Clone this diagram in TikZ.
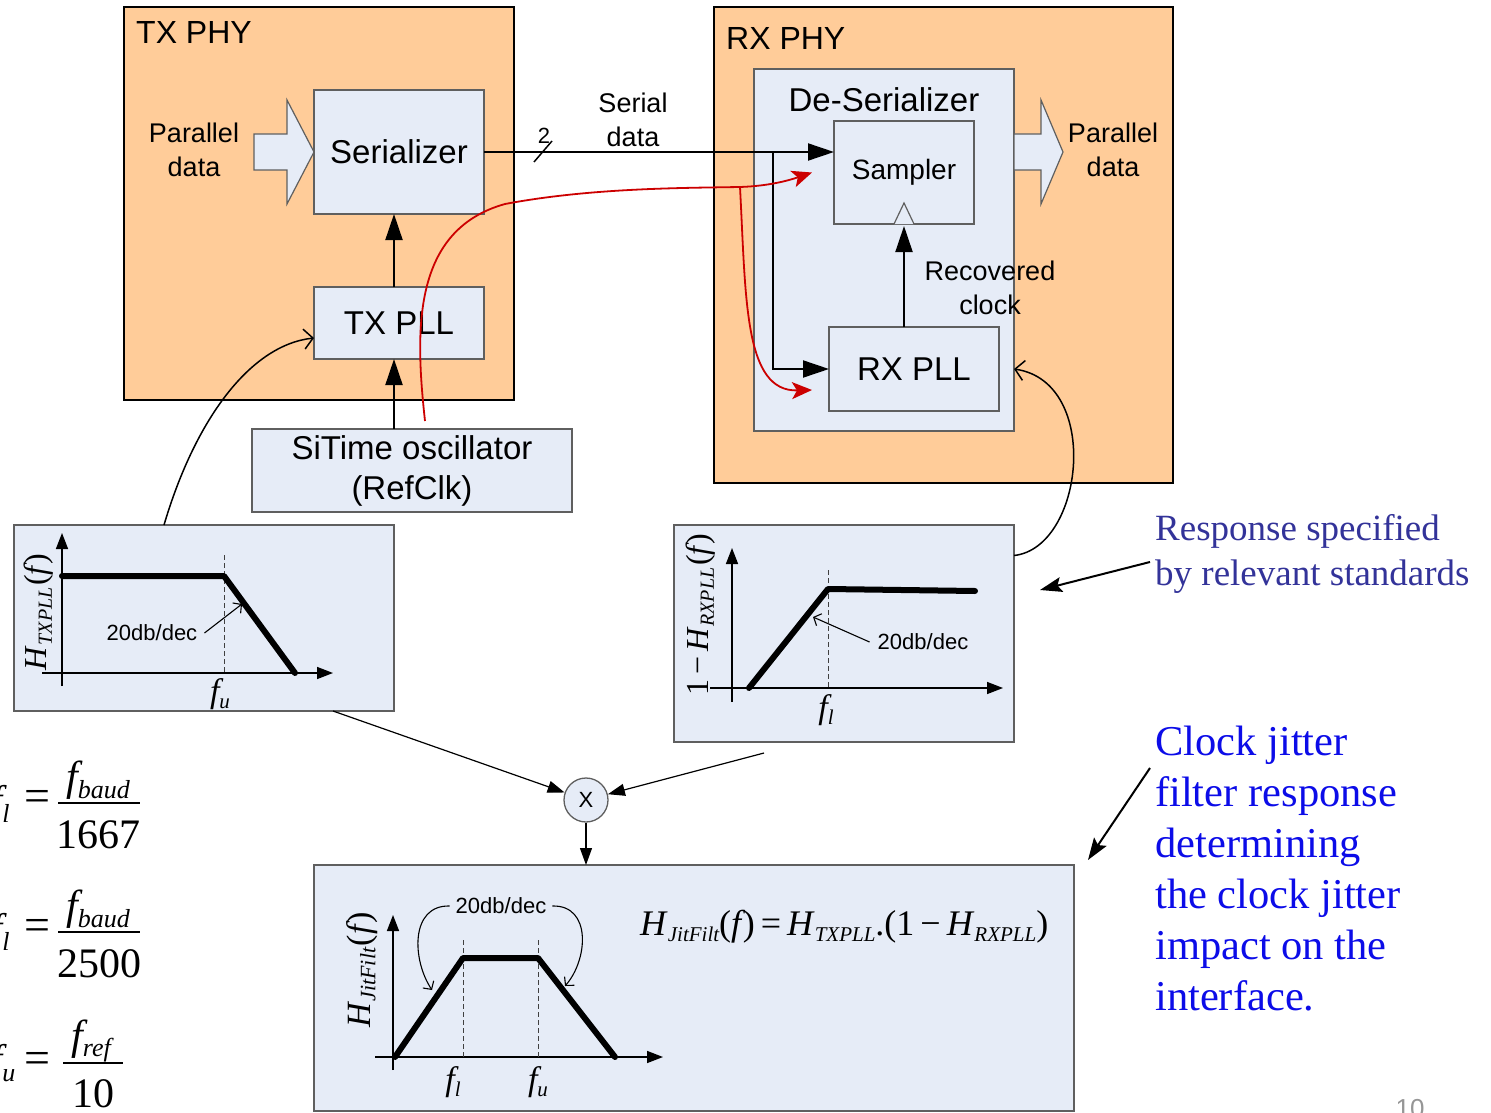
\documentclass[tikz,border=0pt]{standalone}
\usepackage{fontspec}
\setmainfont{Liberation Sans}
\newfontfamily\tms{Liberation Serif}
\usetikzlibrary{arrows.meta}

% font helpers: size switch, italic serif, lowered italic subscript, upright serif
\newcommand\fsz[2]{\fontsize{#1}{#2}\selectfont}
\newcommand\iv[2]{{\tms\itshape\fontsize{#1}{#1}\selectfont #2}}
\newcommand\sv[3]{\raisebox{#1}{\tms\itshape\fontsize{#2}{#2}\selectfont #3}}
\newcommand\rv[2]{{\tms\fontsize{#1}{#1}\selectfont #2}}

\definecolor{peach}{RGB}{255,204,153}
\definecolor{paleblue}{RGB}{230,236,247}
\definecolor{boxedge}{RGB}{95,95,95}
\definecolor{sigred}{RGB}{204,0,0}
\definecolor{noteblue}{RGB}{51,51,153}
\definecolor{brightblue}{RGB}{12,12,232}
\definecolor{pagegray}{RGB}{150,150,150}

\begin{document}
\begin{tikzpicture}[x=1pt,y=-1pt,
  phy/.style={draw=black,line width=1.6pt,fill=peach,inner sep=0pt,outer sep=0pt},
  blk/.style={draw=boxedge,line width=1.3pt,fill=paleblue,inner sep=0pt,outer sep=0pt,align=center},
  lbl/.style={inner sep=0pt,align=center},
  blockarrow/.style={draw=boxedge,line width=1.2pt,fill=paleblue,line join=miter},
  wire/.style={line width=2pt},
  bigarrow/.style={wire,-{Triangle[length=26pt,width=17pt]}},
  openarrow/.style={line width=1.5pt,-{Straight Barb[length=9pt,width=20pt]}},
  openthin/.style={line width=1.1pt,-{Straight Barb[length=6pt,width=13pt]}},
  redarrow/.style={draw=sigred,line width=1.8pt,-{Stealth[length=20pt,width=17pt,inset=5pt]}},
  axis/.style={line width=1.5pt,-{Triangle[length=16pt,width=12pt]}},
  curve/.style={line width=6pt,line cap=round,line join=round},
  guide/.style={line width=1pt,dash pattern=on 5pt off 3pt,draw=black!75},
  thinarrow/.style={line width=1.2pt,-{Triangle[length=17pt,width=12pt]}},
  notearrow/.style={line width=2pt,-{Stealth[length=22pt,width=15pt,inset=4pt]}},
  slope/.style={lbl,font=\fsz{22}{26}},
  eqn/.style={lbl,anchor=base},
  resp/.style={lbl,anchor=base west,text=noteblue,font={\tms\fsz{37}{45}}},
  jit/.style={lbl,anchor=base west,text=brightblue,font={\tms\fsz{42.5}{51}}}
]
\useasboundingbox (0,0) rectangle (1491,1113);

% ---------------- physical layer enclosures ----------------
\node[phy,minimum width=390pt,minimum height=393pt] (txphy) at (319,203.5) {};
\node[phy,minimum width=459pt,minimum height=476pt] (rxphy) at (943.5,245) {};
\node[lbl,anchor=base west,font=\fsz{32}{38}] (txphyl) at (136,44) {TX PHY};
\node[lbl,anchor=base west,font=\fsz{32}{38}] (rxphyl) at (726,50) {RX PHY};

% ---------------- transmitter ----------------
\node[blk,minimum width=170pt,minimum height=124pt,font=\fsz{33}{38}] (ser) at (399,152) {Serializer};
\node[blk,minimum width=170pt,minimum height=72pt,font=\fsz{33}{38}] (txpll) at (399,323) {TX PLL};
\node[blk,minimum width=320pt,minimum height=83pt,font=\fsz{33}{40}] (osc) at (412,470.5) {SiTime oscillator\\(RefClk)};

\begin{scope}[shift={(ser.west)}]
  \draw[blockarrow] (-60,-18) -- (-27,-18) -- (-27,-52) -- (0,0) -- (-27,52) -- (-27,18) -- (-60,18) -- cycle;
\end{scope}
\node[lbl,font=\fsz{27}{34}] (txpar) at (194,150) {Parallel\\data};

\coordinate (clkx) at ([xshift=-5pt]txpll.south);
\draw[bigarrow] (clkx |- osc.north) -- (clkx);
\draw[bigarrow] ([xshift=-5pt]txpll.north) -- ([xshift=-5pt]ser.south);

% ---------------- receiver ----------------
\node[blk,minimum width=260pt,minimum height=362pt] (deser) at (884,250) {};
\node[lbl,font=\fsz{33}{38}] (deserl) at (884,100) {De-Serializer};
\node[blk,minimum width=140pt,minimum height=103pt,font=\fsz{28}{32}] (samp) at (904,172.5) {Sampler};
\node[blk,minimum width=170pt,minimum height=84pt,font=\fsz{33}{38}] (rxpll) at (914,369) {RX PLL};
\draw[draw=boxedge,line width=1.2pt,fill=paleblue] ([xshift=-10pt]samp.south) -- ([yshift=21pt]samp.south) -- ([xshift=10pt]samp.south);
\draw[bigarrow] (samp.south |- rxpll.north) -- ([yshift=-2pt]samp.south);
\node[lbl,font=\fsz{27}{34}] (recclk) at (990,288) {Recovered\\clock};

\begin{scope}[shift={(deser.east |- ser.east)}]
  \draw[blockarrow] (0,-18) -- (27,-18) -- (27,-52) -- (49,0) -- (27,52) -- (27,18) -- (0,18) -- cycle;
\end{scope}
\node[lbl,font=\fsz{27}{34}] (rxpar) at (1113,150) {Parallel\\data};

% ---------------- serial link ----------------
\draw[bigarrow] (ser.east) -- (samp.west |- ser.east);
\coordinate (lanes) at ([xshift=59pt]ser.east);
\draw[line width=1.5pt] ([shift={(-9,10)}]lanes) -- ([shift={(9,-11)}]lanes);
\node[lbl,anchor=base,font=\fsz{22}{26}] (lanecount) at (544,143) {2};
\node[lbl,font=\fsz{27}{34}] (serlbl) at (633,120) {Serial\\data};
\coordinate (tap) at (773,152);
\draw[bigarrow] (tap) |- (rxpll.west);

% reference clock path through the link
\coordinate (rstart) at (425,421);
\coordinate (rsplit) at (740,187);
\draw[redarrow] (rstart) .. controls (415,330) and (412,230) .. (505,204)
  .. controls (590,188) and (680,188) .. (rsplit)
  .. controls (770,186) and (790,180) .. ([xshift=-22pt]samp.west);
\draw[redarrow] (rsplit) .. controls (746,300) and (744,392) .. ([shift={(-17,21)}]rxpll.west);

% ---------------- TX PLL response ----------------
\node[blk,minimum width=380pt,minimum height=186pt] (txplot) at (204,618) {};
\draw[axis] (62,686) -- (62,533);
\draw[axis] (42,673) -- (333,673);
\draw[guide] (224,555) -- (224,673);
\draw[curve] (62,576) -- (224,576) -- (295,673);
\node[slope] (txslope) at (152,633) {20db/dec};
\coordinate (txslopetip) at (242,604);
\draw[openthin] ([xshift=7pt]txslope.east) -- (txslopetip);
\node[eqn] (txfu) at (220,702) {\iv{34}{f}\sv{-6pt}{21}{u}};
\node[lbl,rotate=90] (txylab) at (39,612) {\iv{32}{H}\,\sv{-5pt}{20}{TXPLL}\,\rv{32}{(}\iv{32}{f}\,\rv{32}{)}};
\draw[openarrow] ([xshift=-40pt]txplot.north) .. controls (195,420) and (250,345) .. ([yshift=-15pt]txpll.west);

% ---------------- RX PLL response ----------------
\node[blk,minimum width=340pt,minimum height=217pt] (rxplot) at (844,633.5) {};
\draw[axis] (732,702) -- (732,548);
\draw[axis] (710,688) -- (1003,688);
\draw[guide] (828,570) -- (828,688);
\draw[curve] (749,688) -- (828,589) -- (975,591);
\node[slope] (rxslope) at (923,642) {20db/dec};
\coordinate (rxslopetip) at (813,617);
\draw[openthin] ([xshift=-8pt]rxslope.west) -- (rxslopetip);
\node[eqn] (rxfl) at (826,718) {\iv{34}{f}\sv{-6pt}{21}{l}};
\node[lbl,rotate=90] (rxylab) at (701,615) {\rv{32}{1\,−\,}\iv{32}{H}\,\sv{-5pt}{20}{RXPLL}\,\rv{32}{(}\iv{32}{f}\,\rv{32}{)}};
\draw[openarrow] ([yshift=78pt]rxplot.east) .. controls (1084,548) and (1102,382) .. (deser.east |- rxpll.east);

% ---------------- product of the two responses ----------------
\node[circle,draw=boxedge,line width=1.3pt,fill=paleblue,minimum size=44pt,inner sep=0pt,font=\fsz{22}{26}] (mult) at (586,800) {X};
\coordinate (txout) at ([xshift=129pt]txplot.south);
\coordinate (rxout) at ([shift={(-80,11)}]rxplot.south);
\draw[thinarrow] (txout) -- (mult);
\draw[thinarrow] (rxout) -- (mult);

\node[blk,minimum width=760pt,minimum height=246pt] (jplot) at (694,988) {};
\draw[thinarrow] (mult.south) -- (mult.south |- jplot.north);
\draw[axis] (393,1070) -- (393,915);
\draw[axis] (375,1057) -- (663,1057);
\draw[guide] (463,940) -- (463,1057);
\draw[guide] (538,940) -- (538,1057);
\draw[curve] (395,1057) -- (463,958) -- (538,958) -- (615,1057);
\node[slope] (jslope) at (501,906) {20db/dec};
\coordinate (jlefttip) at (432,990);
\coordinate (jrighttip) at (565,986);
\draw[openthin] ([xshift=-6pt]jslope.west) .. controls (410,905) and (412,960) .. (jlefttip);
\draw[openthin] ([xshift=6pt]jslope.east) .. controls (592,905) and (588,960) .. (jrighttip);
\node[eqn] (jfl) at (453,1090) {\iv{34}{f}\sv{-6pt}{21}{l}};
\node[eqn] (jfu) at (538,1090) {\iv{34}{f}\sv{-6pt}{21}{u}};
\node[lbl,rotate=90] (jylab) at (362,970) {\iv{34}{H}\,\sv{-5pt}{22}{JitFilt}\,\rv{34}{(}\iv{34}{f}\,\rv{34}{)}};
\node[lbl,anchor=base west] (jformula) at (640,935) {\iv{36}{H}\,\sv{-6pt}{21}{JitFilt}\rv{36}{(}\iv{36}{f}\,\rv{36}{)\,=\,}\iv{36}{H}\,\sv{-6pt}{21}{TXPLL}\rv{36}{.(1\,−\,}\iv{36}{H}\,\sv{-6pt}{21}{RXPLL}\rv{36}{)}};

% ---------------- corner frequencies ----------------
\node[lbl,anchor=base west] (fl1) at (-9,813) {\iv{40}{f}\sv{-9pt}{26}{l}};
\node[eqn] (eq1) at (37,811) {\rv{46}{=}};
\node[eqn] (num1) at (98,790) {\iv{42}{f}\sv{-8pt}{26}{baud}};
\draw[line width=1.3pt] (58,803) -- (140,803);
\node[eqn] (den1) at (98,848) {\rv{42}{1667}};

\node[lbl,anchor=base west] (fl2) at (-9,941) {\iv{40}{f}\sv{-9pt}{26}{l}};
\node[eqn] (eq2) at (37,940) {\rv{46}{=}};
\node[eqn] (num2) at (98,919) {\iv{42}{f}\sv{-8pt}{26}{baud}};
\draw[line width=1.3pt] (58,932) -- (140,932);
\node[eqn] (den2) at (99,977) {\rv{42}{2500}};

\node[lbl,anchor=base west] (fu3) at (-9,1072) {\iv{40}{f}\sv{-9pt}{26}{u}};
\node[eqn] (eq3) at (37,1073) {\rv{46}{=}};
\node[eqn] (num3) at (91,1049) {\iv{42}{f}\sv{-7pt}{26}{ref}};
\draw[line width=1.3pt] (63,1063) -- (123,1063);
\node[eqn] (den3) at (93,1107) {\rv{42}{10}};

% ---------------- notes ----------------
\node[resp] (resp1) at (1155,540) {Response specified};
\node[resp] (resp2) at (1155,585) {by relevant standards};
\coordinate (respfrom) at (1150,562);
\coordinate (respto) at (1040,590);
\draw[notearrow] (respfrom) -- (respto);

\node[jit] (jit1) at (1155,755) {Clock jitter};
\node[jit] (jit2) at (1155,806) {filter response};
\node[jit] (jit3) at (1155,857) {determining};
\node[jit] (jit4) at (1155,908) {the clock jitter};
\node[jit] (jit5) at (1155,959) {impact on the};
\node[jit] (jit6) at (1155,1010) {interface.};
\coordinate (jitfrom) at (1150,768);
\coordinate (jitto) at (1088,860);
\draw[notearrow] (jitfrom) -- (jitto);

\node[lbl,anchor=base,text=pagegray,font=\fsz{26}{30}] (pagenum) at (1410,1117) {10};
\end{tikzpicture}
\end{document}
